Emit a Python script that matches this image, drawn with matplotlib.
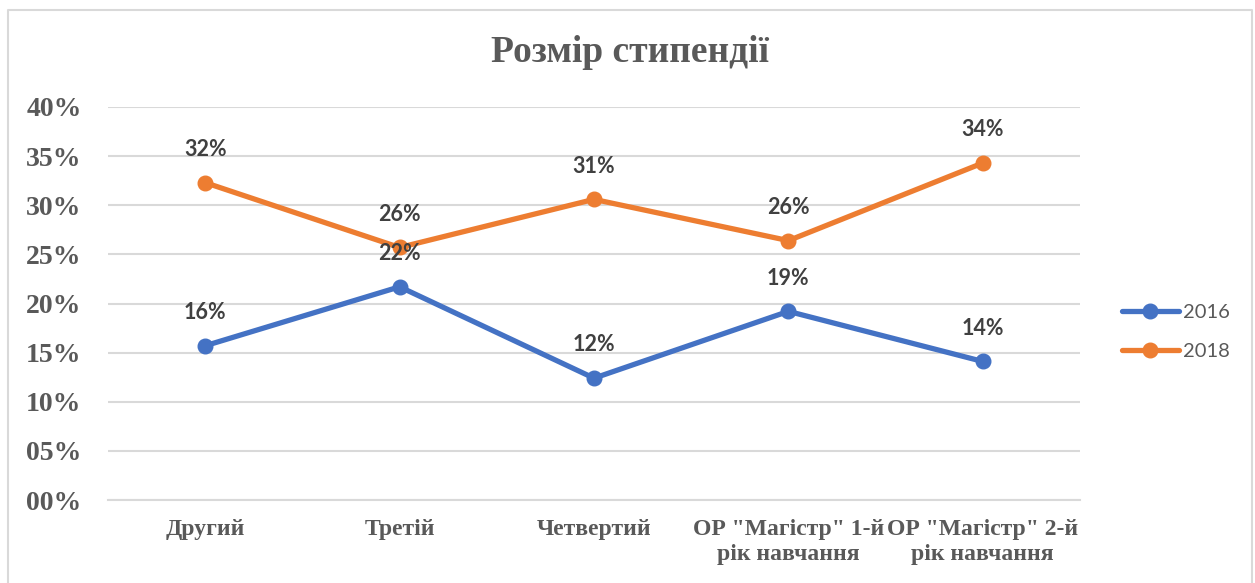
import matplotlib.pyplot as plt
from matplotlib.lines import Line2D
from matplotlib.ticker import FuncFormatter

categories = ['Другий', 'Третій', 'Четвертий',
              'ОР "Магістр" 1-й\nрік навчання', 'ОР "Магістр" 2-й\nрік навчання']
y2016 = [0.157, 0.217, 0.124, 0.192, 0.141]
y2018 = [0.323, 0.257, 0.306, 0.264, 0.343]
series = [('2016', y2016, '#4472C4'), ('2018', y2018, '#ED7D31')]

fig = plt.figure(figsize=(12.55, 5.83), dpi=100)
ax = fig.add_axes([108 / 1255, 1 - 500 / 583, 972 / 1255, 393 / 583])

x = list(range(len(categories)))
for name, vals, col in series:
    ax.plot(x, vals, color=col, lw=3.8, marker='o', ms=10.5, label=name,
            solid_capstyle='round', zorder=3)
    for xi, v in zip(x, vals):
        ax.annotate('%d%%' % round(v * 100), (xi, v), xytext=(0, 24),
                    textcoords='offset points', ha='center', va='center',
                    fontsize=15.5, fontweight='bold', color='#404040',
                    family='Lato', zorder=4)

ax.set_xlim(-0.5, 4.5)
ax.set_ylim(0, 0.4)
ax.set_yticks([i * 0.05 for i in range(9)])
ax.yaxis.set_major_formatter(FuncFormatter(lambda v, p: '%02d%%' % round(v * 100)))
ax.grid(axis='y', color='#D9D9D9', lw=1.5)
ax.set_axisbelow(True)
for s in ax.spines.values():
    s.set_visible(False)
ax.spines['bottom'].set_visible(True)
ax.spines['bottom'].set_color('#D9D9D9')
ax.spines['bottom'].set_linewidth(1.5)
ax.tick_params(length=0)
ax.tick_params(axis='y', pad=19, labelsize=20, labelcolor='#595959')
for t in ax.get_yticklabels():
    t.set_family('Liberation Serif')
    t.set_fontweight('bold')

ax.set_xticks(x)
ax.set_xticklabels(categories, family='Liberation Serif', fontweight='bold',
                   fontsize=17, color='#595959', linespacing=1.2)
ax.tick_params(axis='x', pad=14)

fig.text(630 / 1255, 1 - 52 / 583, 'Розмір стипендії', ha='center', va='center',
         fontsize=27, fontweight='bold', color='#595959', family='Liberation Serif')

handles = [Line2D([], [], color=c, lw=3.8, marker='o', ms=10.5, solid_capstyle='round')
           for _, _, c in series]
fig.legend(handles, [s[0] for s in series], loc='center left',
           bbox_to_anchor=(1104 / 1255, 1 - 332 / 583), frameon=False,
           prop={'family': 'Lato', 'size': 14.5}, labelcolor='#595959',
           handlelength=2.8, handletextpad=0.2, labelspacing=1.1)

# outer chart border
fig.add_artist(Line2D([8 / 1255, 8 / 1255, 1252 / 1255, 1252 / 1255],
                      [-0.1, 1 - 10 / 583, 1 - 10 / 583, -0.1],
                      transform=fig.transFigure, color='#D9D9D9', lw=1.5))

fig.savefig('out.png', dpi=100)
